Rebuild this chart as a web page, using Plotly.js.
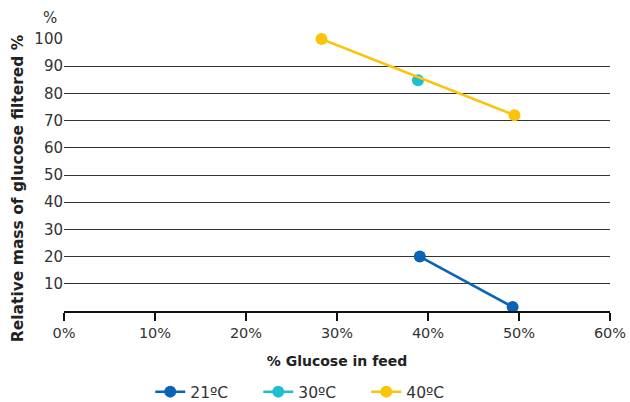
<!DOCTYPE html>
<html><head><meta charset="utf-8">
<script src="https://cdn.plot.ly/plotly-3.0.1.min.js"></script>
<style>html,body{margin:0;padding:0;background:#fff}#chart{width:630px;height:402px}</style>
</head><body><div id="chart"></div>
<script>
const seriesNames = ["21ºC", "30ºC", "40ºC"];
const seriesColors = ["#0a63b5", "#1fbfcf", "#fcc30b"];
const x21 = [0.391, 0.493];
const y21 = [20, 1.5];
const x30 = [0.389];
const y30 = [84.8];
const x40 = [0.283, 0.495];
const y40 = [100, 72];
const xTicks = [0, 0.1, 0.2, 0.3, 0.4, 0.5, 0.6];
const xTickText = ["0%", "10%", "20%", "30%", "40%", "50%", "60%"];
const yTicks = [10, 20, 30, 40, 50, 60, 70, 80, 90, 100];
const xTitle = "% Glucose in feed";
const yTitle = "Relative mass of glucose filtered %";

const xs = [x21, x30, x40], ys = [y21, y30, y40];
const traces = xs.map((x, i) => ({
  x: x, y: ys[i], name: seriesNames[i], type: 'scatter', mode: 'lines+markers',
  line: {color: seriesColors[i], width: 2.5},
  marker: {color: seriesColors[i], size: 12},
  cliponaxis: false
}));

const font = "DejaVu Sans, Verdana, sans-serif";
const layout = {
  width: 630, height: 402,
  margin: {l: 64, r: 20, t: 39, b: 91, autoexpand: false},
  paper_bgcolor: '#fff', plot_bgcolor: '#fff',
  font: {family: font, size: 14, color: '#333'},
  showlegend: true,
  legend: {orientation: 'h', x: 0.158, xanchor: 'left', y: -0.298, yanchor: 'middle',
           entrywidth: 63, entrywidthmode: 'pixels', tracegroupgap: 0,
           font: {family: font, size: 15.5, color: '#333'}, traceorder: 'normal'},
  xaxis: {
    range: [0, 0.6], tickvals: xTicks, ticktext: xTickText, automargin: false,
    showgrid: false, zeroline: false, showline: true, linecolor: '#111', linewidth: 2,
    ticks: 'outside', ticklen: 8, tickcolor: '#111', tickwidth: 1.5,
    tickfont: {family: font, size: 14.5, color: '#333'},
    title: {text: '<b>' + xTitle + '</b>', font: {family: font, size: 14, color: '#222'}, standoff: 16}
  },
  yaxis: {
    range: [0, 100], tickvals: yTicks, automargin: false,
    showgrid: true, gridcolor: '#333', gridwidth: 1, zeroline: false, showline: false,
    ticks: '', tickfont: {family: font, size: 15, color: '#333'}
  },
  annotations: [
    {text: '%', xref: 'paper', yref: 'paper', x: -0.01, y: 1.078, xanchor: 'right', yanchor: 'middle',
     showarrow: false, font: {family: font, size: 15, color: '#333'}},
    {text: '<b>' + yTitle + '</b>', xref: 'paper', yref: 'paper', x: -0.084, y: 0.452,
     xanchor: 'center', yanchor: 'middle', textangle: -90, showarrow: false,
     font: {family: font, size: 15.5, color: '#222'}}
  ]
};
Plotly.newPlot('chart', traces, layout, {displayModeBar: false, staticPlot: true});
</script></body></html>
